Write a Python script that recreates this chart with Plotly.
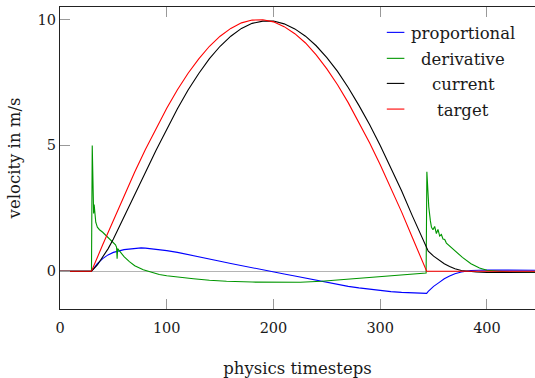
import plotly.graph_objects as go

# ---- data ----
t_target = [0, 29.5, 40, 50, 60, 70, 80, 90, 100, 110, 120, 130, 140, 150, 160, 170, 180, 190,
            200, 210, 220, 230, 240, 250, 260, 270, 280, 290, 300, 310, 320, 330, 340, 343.5, 450]
v_target = [0, 0, 1.05, 2.03, 3.0, 3.94, 4.84, 5.69, 6.48, 7.21, 7.87, 8.44, 8.94, 9.34, 9.65, 9.87, 9.98, 9.99,
            9.91, 9.72, 9.44, 9.07, 8.6, 8.04, 7.41, 6.7, 5.93, 5.11, 4.23, 3.31, 2.36, 1.35, 0.35, 0, 0]

t_current = [0, 29.5, 35, 40, 45, 50, 60, 70, 80, 90, 100, 110, 120, 130, 140, 150, 160, 170, 180, 190,
             200, 210, 220, 230, 240, 250, 260, 270, 280, 290, 300, 310, 320, 330, 340, 343.5,
             345, 350, 355, 360, 365, 370, 376, 382, 390, 400, 420, 450]
v_current = [0, 0, 0.25, 0.55, 0.89, 1.28, 2.14, 3.02, 3.92, 4.81, 5.66, 6.46, 7.2, 7.86, 8.45, 8.94, 9.34, 9.65, 9.85, 9.94,
             9.94, 9.83, 9.63, 9.34, 8.96, 8.49, 7.94, 7.3, 6.59, 5.83, 5.0, 4.12, 3.2, 2.21, 1.23, 0.88,
             0.8, 0.6, 0.45, 0.3, 0.19, 0.1, 0.03, 0, -0.03, -0.05, -0.05, -0.04]

t_prop = [0, 29.5, 35, 40, 45, 50, 60, 70, 76, 80, 90, 100, 110, 120, 130, 140, 150, 160, 170, 180, 190,
          200, 210, 220, 230, 240, 250, 260, 270, 280, 290, 300, 310, 320, 330, 340, 343.5,
          345, 350, 355, 360, 365, 370, 376, 385, 400, 450]
v_prop = [0, 0, 0.3, 0.5, 0.65, 0.75, 0.86, 0.92, 0.93, 0.92, 0.88, 0.82, 0.75, 0.67, 0.58, 0.49, 0.4, 0.31, 0.22, 0.13, 0.05,
          -0.03, -0.11, -0.19, -0.27, -0.36, -0.45, -0.53, -0.6, -0.66, -0.72, -0.77, -0.81, -0.84, -0.86, -0.88, -0.88,
          -0.8, -0.6, -0.45, -0.3, -0.19, -0.1, -0.03, 0.03, 0.05, 0.04]

t_deriv = [0, 29.5, 30.2, 30.8, 31.5, 32, 32.5, 33.5, 35, 37, 40, 43.5, 47, 50, 52, 53, 53.5, 54, 56, 60, 65, 70,
           78, 85, 93, 100, 110, 125, 140, 156, 180, 205, 225, 245, 270, 300, 320, 343,
           343.7, 344.5, 345.5, 347, 348, 349.4, 351, 352.6, 354.1, 355.7, 357.3, 358.8, 360.4, 362,
           365, 370, 377, 385, 393, 400, 409, 420, 450]
v_deriv = [0, 0, 5.0, 2.4, 2.3, 2.65, 2.3, 1.95, 1.75, 1.65, 1.55, 1.4, 1.25, 1.12, 1.05, 0.95, 0.5, 0.9, 0.8, 0.58, 0.38, 0.22,
           0.06, -0.04, -0.13, -0.18, -0.24, -0.3, -0.36, -0.4, -0.43, -0.45, -0.44, -0.4, -0.32, -0.22, -0.16, -0.07,
           3.95, 3.0, 2.55, 2.0, 1.75, 1.65, 1.78, 1.5, 1.66, 1.4, 1.46, 1.28, 1.26, 1.12,
           1.0, 0.82, 0.55, 0.3, 0.13, 0.04, 0.0, -0.03, -0.04]

names = ["proportional", "derivative", "current", "target"]
colors = ["#0000ff", "#009600", "#000000", "#ff0000"]

x_ticks = [0, 100, 200, 300, 400]
y_ticks = [0, 5, 10]

FONT = "DejaVu Serif"
TXT = "#1a1a1a"

fig = go.Figure()
series = [(t_prop, v_prop), (t_deriv, v_deriv), (t_current, v_current), (t_target, v_target)]
for (tx, vy), name, col in zip(series, names, colors):
    fig.add_trace(go.Scatter(x=tx, y=vy, mode="lines", name=name,
                             line=dict(color=col, width=1.1), showlegend=False))

# manual legend (short line sample + centred text)
leg_rows = [0.916, 0.830, 0.747, 0.662]
for name, col, yy in zip(names, colors, leg_rows):
    fig.add_shape(type="line", xref="paper", yref="paper", x0=0.688, x1=0.725, y0=yy, y1=yy,
                  line=dict(color=col, width=1.1))
    fig.add_annotation(xref="paper", yref="paper", x=0.849, y=yy - 0.004, text=name, showarrow=False,
                       xanchor="center", yanchor="middle",
                       font=dict(family=FONT, size=16.5, color=TXT))

fig.update_layout(
    width=535, height=378,
    margin=dict(l=60, r=0, t=7, b=69),
    paper_bgcolor="white", plot_bgcolor="white",
    font=dict(family=FONT, size=14.5, color=TXT),
    xaxis=dict(range=[0, 445], tickvals=x_ticks, ticks="inside", ticklen=10, tickcolor="#999",
               tickwidth=1, showline=True, linecolor="#222", linewidth=1.2, mirror="ticks",
               showgrid=False, zeroline=False, automargin=False, ticklabelstandoff=5,
               tickfont=dict(family=FONT, size=14.5, color=TXT),
               title=dict(text="physics timesteps", font=dict(family=FONT, size=16.5, color=TXT),
                          standoff=27)),
    yaxis=dict(range=[-1.5, 10.5], tickvals=y_ticks, ticks="inside", ticklen=10, tickcolor="#999",
               tickwidth=1, showline=True, linecolor="#222", linewidth=1.2, mirror=False,
               showgrid=False, zeroline=True, zerolinecolor="#b4b4b4", zerolinewidth=1,
               automargin=False,
               tickfont=dict(family=FONT, size=14.5, color=TXT),
               title=dict(text="velocity in m/s", font=dict(family=FONT, size=16.5, color=TXT),
                          standoff=12)),
    yaxis2=dict(range=[-1.5, 10.5], overlaying="y", side="right", tickvals=[5, 10], ticks="inside",
                ticklen=8, tickcolor="#999", showticklabels=False, showline=False, showgrid=False,
                zeroline=False),
)

fig.write_html("out.html", config={"displayModeBar": False},
               post_script="document.body.style.margin='0';")
